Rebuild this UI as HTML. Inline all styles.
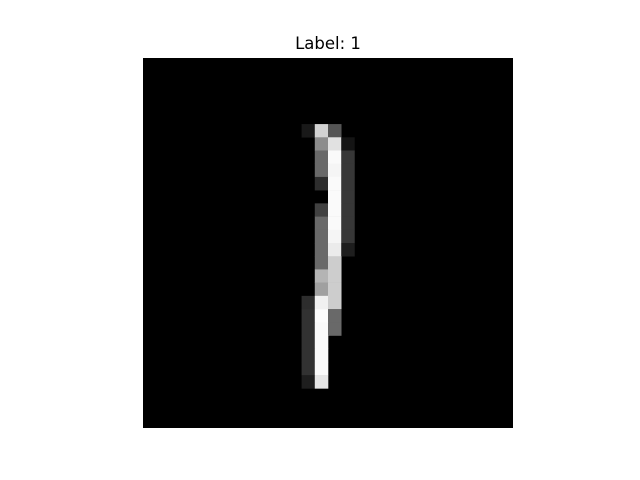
<!DOCTYPE html>
<html><head><meta charset="utf-8"><style>
body{margin:0;background:#fff;width:640px;height:480px;overflow:hidden}
svg{display:block}
</style></head><body>
<svg id="chart" width="640" height="480">
<text x="328" y="49" text-anchor="middle" font-family="DejaVu Sans, sans-serif" font-size="16.5" fill="#000">Label: 1</text>
<rect x="143" y="58" width="370" height="370" fill="#000"/>
<g id="cells"></g>
</svg>
<script>
const gridSize = 28;
const pixelRows = [5,5,5,6,6,6,7,7,7,8,8,8,9,9,9,10,10,11,11,11,12,12,12,13,13,13,14,14,14,15,15,16,16,17,17,18,18,18,19,19,19,20,20,20,21,21,22,22,23,23,24,24];
const pixelCols = [12,13,14,13,14,15,13,14,15,13,14,15,13,14,15,14,15,13,14,15,13,14,15,13,14,15,13,14,15,13,14,13,14,13,14,12,13,14,12,13,14,12,13,14,12,13,12,13,12,13,12,13];
const pixelValues = [25,210,85,140,225,20,105,250,55,105,245,55,45,250,55,250,55,65,250,55,105,250,55,105,245,55,105,235,30,105,205,180,205,160,205,45,240,205,50,253,105,50,250,105,50,250,50,250,50,250,30,230];
const x0 = 143, y0 = 58, size = 370;
const cell = size / gridSize;
function xPos(c){return x0 + c * cell;}
function yPos(r){return y0 + r * cell;}
const g = document.getElementById('cells');
for (let i = 0; i < pixelValues.length; i++) {
  const r = document.createElementNS('http://www.w3.org/2000/svg','rect');
  const v = pixelValues[i];
  r.setAttribute('x', xPos(pixelCols[i]));
  r.setAttribute('y', yPos(pixelRows[i]));
  r.setAttribute('width', cell + 0.3);
  r.setAttribute('height', cell + 0.3);
  r.setAttribute('fill', `rgb(${v},${v},${v})`);
  
  
  g.appendChild(r);
}
</script>
</body></html>
